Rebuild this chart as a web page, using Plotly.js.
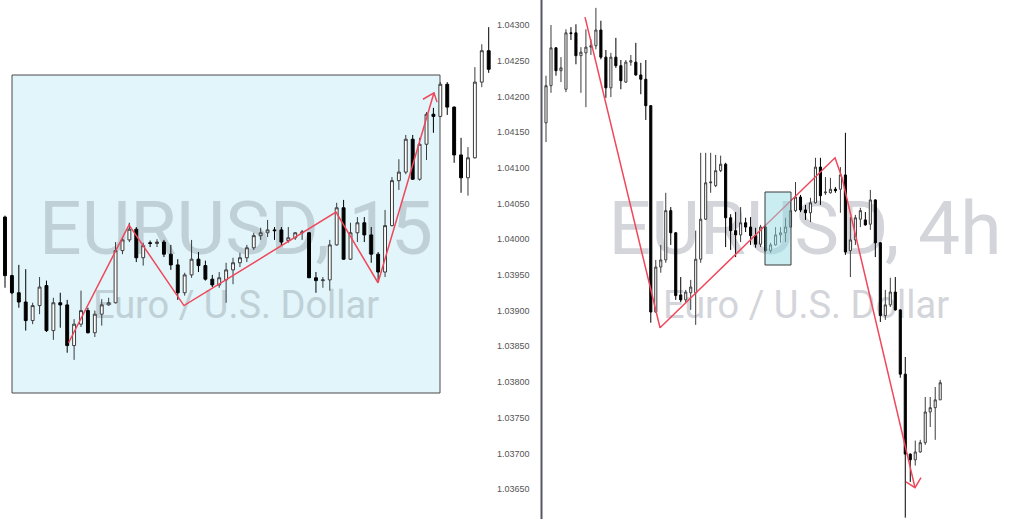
<!DOCTYPE html>
<html>
<head>
<meta charset="utf-8">
<script src="https://cdn.plot.ly/plotly-3.0.1.min.js"></script>
<style>html,body{margin:0;padding:0;background:#fff;}#chart{width:1022px;height:519px;}</style>
</head>
<body>
<div id="chart"></div>
<script>
// ---------- EURUSD 15m (left panel) ----------
const leftOpen  = [1.04031,1.03949,1.03925,1.03912,1.03886,1.03907,1.03935,1.03872,1.03911,1.03908,1.03851,1.03881,1.03900,1.03869,1.03895,1.03908,1.03911,1.03984,1.03999,1.04014,1.03974,1.03995,1.03994,1.03996,1.03979,1.03964,1.03925,1.03950,1.03972,1.03963,1.03944,1.03936,1.03943,1.03957,1.03967,1.03974,1.03988,1.04005,1.04009,1.04013,1.04013,1.03998,1.04002,1.04009,1.04009,1.03946,1.03942,1.03943,1.03992,1.04044,1.03972,1.04009,1.04023,1.04006,1.03979,1.03954,1.04019,1.04082,1.04094,1.04140,1.04084,1.04133,1.04175,1.04172,1.04217,1.04185,1.04118,1.04086,1.04114,1.04220,1.04264];
const leftHigh  = [1.04033,1.03950,1.03964,1.03958,1.03911,1.03947,1.03942,1.03918,1.03925,1.03915,1.03888,1.03928,1.03904,1.03900,1.03916,1.03918,1.03996,1.04003,1.04023,1.04017,1.03995,1.03998,1.04000,1.03999,1.03992,1.03972,1.03953,1.03999,1.03982,1.03970,1.03950,1.03954,1.03967,1.03974,1.03981,1.03992,1.04009,1.04016,1.04027,1.04017,1.04017,1.04017,1.04010,1.04013,1.04010,1.03954,1.03947,1.03999,1.04051,1.04055,1.04023,1.04031,1.04031,1.04017,1.03982,1.04041,1.04087,1.04112,1.04146,1.04146,1.04142,1.04178,1.04184,1.04220,1.04220,1.04186,1.04142,1.04129,1.04241,1.04273,1.04297];
const leftLow   = [1.03932,1.03923,1.03904,1.03872,1.03881,1.03895,1.03870,1.03859,1.03876,1.03841,1.03831,1.03877,1.03868,1.03863,1.03879,1.03907,1.03910,1.03979,1.03996,1.03968,1.03963,1.03989,1.03989,1.03975,1.03957,1.03915,1.03921,1.03946,1.03954,1.03942,1.03933,1.03932,1.03911,1.03937,1.03961,1.03968,1.03985,1.03999,1.04003,1.03999,1.03991,1.03995,1.03999,1.03999,1.03946,1.03925,1.03932,1.03928,1.03991,1.03971,1.03971,1.03996,1.03996,1.03967,1.03940,1.03947,1.04018,1.04069,1.04091,1.04083,1.04082,1.04111,1.04149,1.04171,1.04174,1.04107,1.04065,1.04061,1.04113,1.04213,1.04233];
const leftClose = [1.03949,1.03925,1.03912,1.03886,1.03907,1.03933,1.03872,1.03911,1.03908,1.03851,1.03881,1.03900,1.03869,1.03895,1.03908,1.03911,1.03984,1.03999,1.04014,1.03974,1.03991,1.03994,1.03996,1.03979,1.03964,1.03925,1.03950,1.03972,1.03963,1.03944,1.03936,1.03946,1.03957,1.03967,1.03974,1.03988,1.04005,1.04009,1.04013,1.04012,1.03996,1.04002,1.04009,1.04010,1.03946,1.03942,1.03943,1.03992,1.04044,1.03972,1.04009,1.04023,1.04006,1.03979,1.03954,1.04019,1.04082,1.04094,1.04140,1.04084,1.04133,1.04175,1.04172,1.04217,1.04185,1.04118,1.04086,1.04114,1.04220,1.04264,1.04238];

// ---------- EURUSD 4h (right panel) ----------
const rightOpen  = [1.04163,1.04215,1.04268,1.04236,1.04210,1.04289,1.04289,1.04257,1.04261,1.04269,1.04271,1.04293,1.04255,1.04212,1.04255,1.04243,1.04220,1.04248,1.04248,1.04230,1.04224,1.04187,1.03898,1.03961,1.03971,1.04040,1.04009,1.03922,1.03915,1.03925,1.03925,1.03972,1.04028,1.04079,1.04075,1.04096,1.04105,1.04030,1.04012,1.04006,1.04023,1.04017,1.04005,1.03993,1.04017,1.03984,1.03992,1.04006,1.04009,1.04017,1.04040,1.04059,1.04041,1.04037,1.04051,1.04101,1.04065,1.04065,1.04070,1.04070,1.04090,1.03984,1.03999,1.04028,1.04027,1.04021,1.04055,1.03995,1.03893,1.03908,1.03926,1.03901,1.03811,1.03699,1.03691,1.03702,1.03715,1.03758,1.03764,1.03775];
const rightHigh  = [1.04229,1.04300,1.04269,1.04255,1.04294,1.04297,1.04301,1.04269,1.04294,1.04280,1.04324,1.04306,1.04265,1.04261,1.04282,1.04251,1.04251,1.04258,1.04275,1.04247,1.04251,1.04188,1.03971,1.03992,1.04065,1.04045,1.04010,1.03947,1.03929,1.03943,1.04012,1.04121,1.04121,1.04121,1.04118,1.04117,1.04107,1.04035,1.04038,1.04045,1.04030,1.04031,1.04016,1.04020,1.04020,1.03995,1.04017,1.04017,1.04030,1.04052,1.04080,1.04062,1.04048,1.04058,1.04114,1.04114,1.04087,1.04086,1.04073,1.04101,1.04149,1.04031,1.04034,1.04044,1.04038,1.04069,1.04056,1.03996,1.03929,1.03946,1.03947,1.03902,1.03835,1.03700,1.03718,1.03719,1.03779,1.03779,1.03793,1.03803];
const rightLow   = [1.04136,1.04205,1.04229,1.04220,1.04206,1.04279,1.04245,1.04205,1.04185,1.04258,1.04266,1.04252,1.04198,1.04199,1.04240,1.04210,1.04219,1.04243,1.04229,1.04203,1.04167,1.03883,1.03897,1.03953,1.03967,1.03992,1.03915,1.03912,1.03911,1.03901,1.03880,1.03967,1.04027,1.04065,1.04073,1.04094,1.03989,1.03985,1.03975,1.03996,1.04010,1.03992,1.03988,1.03989,1.03982,1.03981,1.03991,1.03995,1.03996,1.04016,1.04038,1.04038,1.04027,1.04024,1.04050,1.04048,1.04062,1.04064,1.04065,1.04037,1.03978,1.03947,1.03992,1.04017,1.04019,1.04013,1.03975,1.03884,1.03887,1.03905,1.03900,1.03806,1.03610,1.03660,1.03683,1.03701,1.03712,1.03737,1.03719,1.03775];
const rightClose = [1.04215,1.04268,1.04236,1.04240,1.04289,1.04288,1.04257,1.04262,1.04269,1.04271,1.04293,1.04255,1.04212,1.04255,1.04243,1.04222,1.04248,1.04250,1.04230,1.04224,1.04187,1.03898,1.03961,1.03971,1.04040,1.04009,1.03921,1.03915,1.03926,1.03933,1.03972,1.04028,1.04079,1.04080,1.04096,1.04105,1.04030,1.04012,1.04006,1.04023,1.04017,1.04005,1.03993,1.04017,1.03984,1.03992,1.04006,1.04009,1.04017,1.04040,1.04059,1.04041,1.04037,1.04051,1.04101,1.04061,1.04066,1.04070,1.04068,1.04090,1.03982,1.03999,1.04030,1.04040,1.04020,1.04055,1.03995,1.03893,1.03908,1.03926,1.03901,1.03811,1.03699,1.03691,1.03702,1.03715,1.03758,1.03764,1.03775,1.03799];

// price tick labels
const priceTicks = [1.0365,1.0370,1.0375,1.0380,1.0385,1.0390,1.0395,1.0400,1.0405,1.0410,1.0415,1.0420,1.0425,1.0430];
const priceTickText = ["1.03650","1.03700","1.03750","1.03800","1.03850","1.03900","1.03950","1.04000","1.04050","1.04100","1.04150","1.04200","1.04250","1.04300"];

// zigzag drawings (bar index, price)
const leftZigX = [9.2, 17.94, 25.9, 47.9, 53.98, 62.08];
const leftZigY = [1.03855, 1.04020, 1.03907, 1.04038, 1.03939, 1.04205];
const leftArrowX = [60.49, 62.08, 62.52];
const leftArrowY = [1.04196, 1.04205, 1.04192];
const rightZigX = [7.82, 22.85, 57.92, 59.32, 73.95];
const rightZigY = [1.04311, 1.03876, 1.04114, 1.04086, 1.03652];
const rightArrowX = [72.14, 73.95, 75.15];
const rightArrowY = [1.03660, 1.03652, 1.03666];

// ---------- layout helpers ----------
const W = 1022, H = 519;
const yAt = py => 1.043 - (py - 25) / 71400;      // pixel row -> price
const lxAt = px => (px - 5) / 6.91;                // pixel col -> left bar index
const rxAt = px => (px - 546) / 4.99;              // pixel col -> right bar index
const idx = a => a.map((_, i) => i);

const candleStyle = {
  increasing: {line: {color: '#3c3c3c', width: 1}, fillcolor: '#ffffff'},
  decreasing: {line: {color: '#000000', width: 1}, fillcolor: '#000000'},
  whiskerwidth: 0, hoverinfo: 'skip', showlegend: false
};
const red = '#f0475a';

const traces = [
  Object.assign({type: 'candlestick', x: idx(leftOpen), open: leftOpen, high: leftHigh, low: leftLow, close: leftClose, xaxis: 'x', yaxis: 'y'}, candleStyle),
  Object.assign({type: 'candlestick', x: idx(rightOpen), open: rightOpen, high: rightHigh, low: rightLow, close: rightClose, xaxis: 'x2', yaxis: 'y'}, candleStyle),
  {type: 'scatter', mode: 'lines', x: leftZigX, y: leftZigY, xaxis: 'x', yaxis: 'y', line: {color: red, width: 1.5}, hoverinfo: 'skip'},
  {type: 'scatter', mode: 'lines', x: leftArrowX, y: leftArrowY, xaxis: 'x', yaxis: 'y', line: {color: red, width: 1.5}, hoverinfo: 'skip'},
  {type: 'scatter', mode: 'lines', x: rightZigX, y: rightZigY, xaxis: 'x2', yaxis: 'y', line: {color: red, width: 1.5}, hoverinfo: 'skip'},
  {type: 'scatter', mode: 'lines', x: rightArrowX, y: rightArrowY, xaxis: 'x2', yaxis: 'y', line: {color: red, width: 1.5}, hoverinfo: 'skip'}
];

function watermark(xref, xc, yc, text, size, color, xconv) {
  return {type: 'rect', layer: 'below', xref: xref, yref: 'y',
    x0: xconv(xc - 250), x1: xconv(xc + 250), y0: yAt(yc + 40), y1: yAt(yc - 40),
    line: {width: 0}, fillcolor: 'rgba(0,0,0,0)',
    label: {text: text, textposition: 'middle center', font: {family: 'Roboto, sans-serif', size: size, color: color}}};
}

const layout = {
  width: W, height: H,
  margin: {l: 0, r: 0, t: 0, b: 0, pad: 0},
  paper_bgcolor: '#ffffff', plot_bgcolor: '#ffffff',
  showlegend: false, hovermode: false,
  boxgap: 0.4,
  xaxis: {domain: [0, 541 / W], range: [lxAt(0), lxAt(541)], visible: false, rangeslider: {visible: false}, anchor: 'y', fixedrange: true},
  xaxis2: {domain: [541 / W, 1], range: [rxAt(541), rxAt(W)], visible: false, rangeslider: {visible: false}, anchor: 'y', fixedrange: true},
  yaxis: {range: [yAt(H), yAt(0)], anchor: 'free', position: 496 / W, side: 'right',
    showgrid: false, zeroline: false, showline: false, ticks: '',
    tickvals: priceTicks, ticktext: priceTickText,
    tickfont: {family: 'Liberation Sans, Arial, sans-serif', size: 9, color: '#555'},
    automargin: false, fixedrange: true},
  shapes: [
    {type: 'rect', layer: 'below', xref: 'x', yref: 'y', x0: lxAt(12), x1: lxAt(440), y0: yAt(393), y1: yAt(75),
      fillcolor: '#e1f5fa', line: {color: '#4a4a4a', width: 1}},
    watermark('x', 236, 223, 'EURUSD, 15', 75, '#bfd0d6', lxAt),
    watermark('x', 236, 302, 'Euro / U.S. Dollar', 38, '#bfd0d6', lxAt),
    watermark('x2', 805, 223, 'EURUSD, 4h', 75, '#d3d5da', rxAt),
    watermark('x2', 806, 302, 'Euro / U.S. Dollar', 38, '#d3d5da', rxAt),
    {type: 'rect', layer: 'above', xref: 'x2', yref: 'y', x0: rxAt(765), x1: rxAt(791), y0: yAt(265), y1: yAt(192),
      fillcolor: 'rgba(150,220,228,0.5)', line: {color: '#3a3a3a', width: 1}},
    {type: 'line', layer: 'above', xref: 'paper', yref: 'paper', x0: 541.5 / W, x1: 541.5 / W, y0: 0, y1: 1,
      line: {color: '#555862', width: 2}}
  ]
};

Plotly.newPlot('chart', traces, layout, {displayModeBar: false, staticPlot: true});
</script>
</body>
</html>
